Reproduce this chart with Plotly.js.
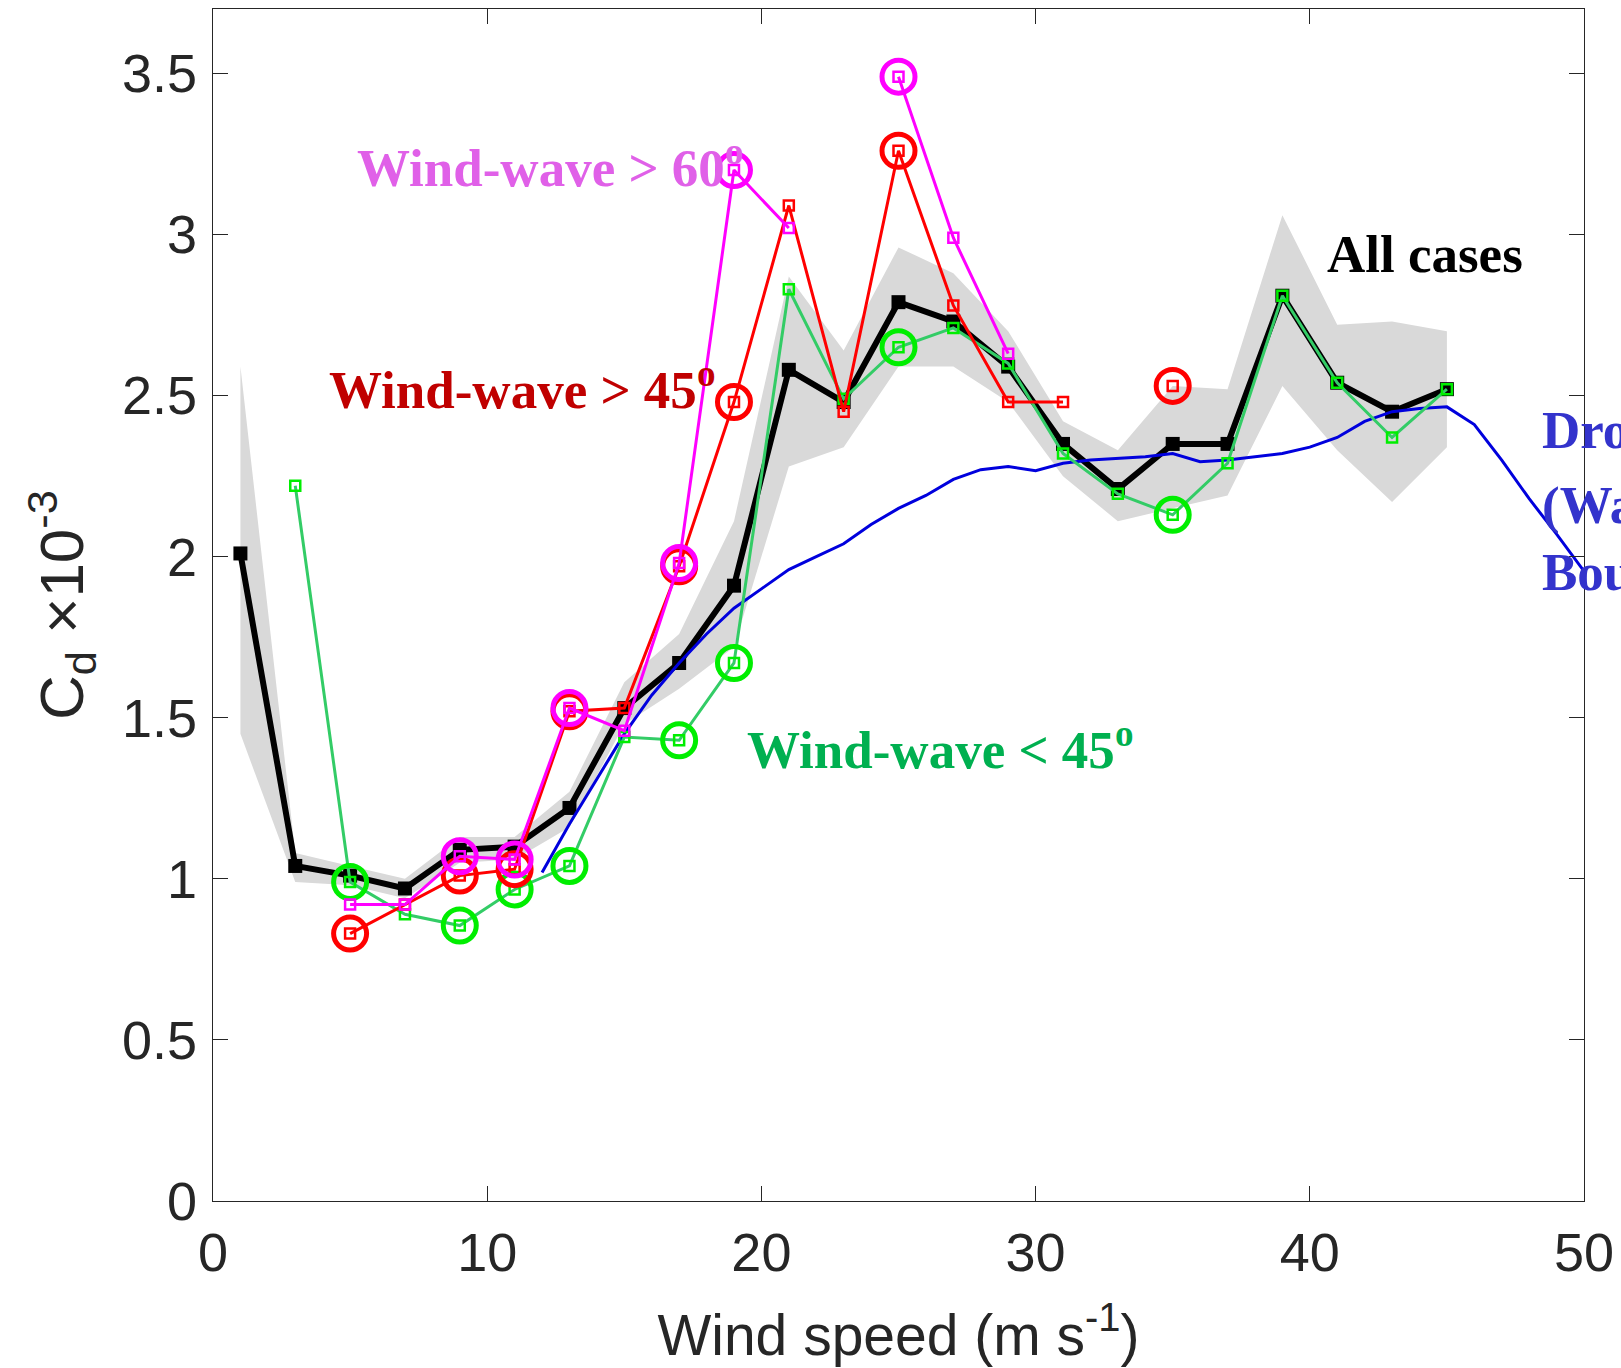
<!DOCTYPE html>
<html>
<head>
<meta charset="utf-8">
<script src="https://cdn.plot.ly/plotly-3.0.1.min.js"></script>
<style>
  html, body { margin: 0; padding: 0; background: #ffffff; }
  #chart { width: 1621px; height: 1368px; }
</style>
</head>
<body>
<div id="chart"></div>
<script>
// ---------------- DATA ----------------
const speed = [1, 3, 5, 7, 9, 11, 13, 15, 17, 19, 21, 23, 25, 27, 29, 31, 33, 35, 37, 39, 41, 43, 45];

const allCases  = [2.01, 1.04, 1.01, 0.97, 1.09, 1.10, 1.22, 1.53, 1.67, 1.91, 2.58, 2.48, 2.79, 2.73, 2.59, 2.35, 2.21, 2.35, 2.35, 2.81, 2.54, 2.45, 2.52];
const bandUpper = [2.59, 1.08, 1.04, 1.00, 1.13, 1.13, 1.27, 1.61, 1.76, 2.11, 2.87, 2.64, 2.96, 2.88, 2.70, 2.42, 2.33, 2.53, 2.52, 3.06, 2.72, 2.73, 2.70];
const bandLower = [1.45, 0.99, 0.98, 0.94, 1.05, 1.06, 1.16, 1.48, 1.59, 1.72, 2.28, 2.34, 2.59, 2.59, 2.48, 2.25, 2.11, 2.15, 2.19, 2.53, 2.33, 2.17, 2.34];

const waveGt45  = [null, null, 0.83, 0.92, 1.01, 1.03, 1.52, 1.53, 1.97, 2.48, 3.09, 2.45, 3.26, 2.78, 2.48, 2.48, null, 2.53, null, null, null, null, null];
const waveGt45Circled = [0, 0, 1, 0, 1, 1, 1, 0, 1, 1, 0, 0, 1, 0, 0, 0, 0, 1, 0, 0, 0, 0, 0];

const waveGt60  = [null, null, 0.92, 0.92, 1.07, 1.06, 1.53, 1.46, 1.98, 3.20, 3.02, null, 3.49, 2.99, 2.63, null, null, null, null, null, null, null, null];
const waveGt60Circled = [0, 0, 0, 0, 1, 1, 1, 0, 1, 1, 0, 0, 1, 0, 0, 0, 0, 0, 0, 0, 0, 0, 0];

const waveLt45  = [null, 2.22, 0.99, 0.89, 0.855, 0.967, 1.04, 1.44, 1.43, 1.67, 2.83, 2.49, 2.65, 2.71, 2.60, 2.32, 2.195, 2.13, 2.29, 2.81, 2.54, 2.37, 2.52];
const waveLt45Circled = [0, 0, 1, 0, 1, 1, 1, 0, 1, 1, 0, 0, 1, 0, 0, 0, 0, 1, 0, 0, 0, 0, 0];

const refSpeed = [12, 13, 14, 15, 16, 17, 18, 19, 20, 21, 22, 23, 24, 25, 26, 27, 28, 29, 30, 31, 32, 33, 34, 35, 36, 37, 38, 39, 40, 41, 42, 43, 44, 45, 46, 47, 48, 49, 50];
const refCd    = [1.02, 1.17, 1.31, 1.45, 1.57, 1.67, 1.76, 1.84, 1.90, 1.96, 2.00, 2.04, 2.10, 2.15, 2.19, 2.24, 2.27, 2.28, 2.267, 2.29, 2.30, 2.305, 2.31, 2.32, 2.295, 2.30, 2.31, 2.32, 2.34, 2.37, 2.42, 2.45, 2.46, 2.465, 2.41, 2.30, 2.18, 2.07, 1.955];

const xTicks = [0, 10, 20, 30, 40, 50];
const yTicks = [0, 0.5, 1, 1.5, 2, 2.5, 3, 3.5];
const yTickText = ['0', '0.5', '1', '1.5', '2', '2.5', '3', '3.5'];

// ---------------- HELPERS ----------------
function pick(xs, ys, flags) {
  const ox = [], oy = [];
  for (let i = 0; i < xs.length; i++) {
    if (flags[i] && ys[i] !== null) { ox.push(xs[i]); oy.push(ys[i]); }
  }
  return {x: ox, y: oy};
}

const RED = '#ff0000', MAG = '#ff00ff', LIME = '#00ee00', GLINE = '#33cc66', BLUE = '#0000dd';

const traces = [];

// shaded band
traces.push({
  x: speed.concat(speed.slice().reverse()),
  y: bandUpper.concat(bandLower.slice().reverse()),
  type: 'scatter', mode: 'lines', fill: 'toself',
  fillcolor: '#d9d9d9', line: {width: 0, color: 'rgba(0,0,0,0)'},
  hoverinfo: 'skip', showlegend: false
});

// all cases
traces.push({
  x: speed, y: allCases, type: 'scatter', mode: 'lines+markers',
  line: {color: '#000000', width: 6},
  marker: {symbol: 'square', size: 14, color: '#000000'},
  showlegend: false
});

// reference curve
traces.push({
  x: refSpeed, y: refCd, type: 'scatter', mode: 'lines',
  line: {color: BLUE, width: 3}, showlegend: false
});

function addSeries(ys, flags, lineColor, markColor) {
  traces.push({
    x: speed, y: ys, type: 'scatter', mode: 'lines+markers', connectgaps: false,
    line: {color: lineColor, width: 3},
    marker: {symbol: 'square-open', size: 10, color: markColor, line: {width: 2.5, color: markColor}},
    showlegend: false
  });
  const c = pick(speed, ys, flags);
  traces.push({
    x: c.x, y: c.y, type: 'scatter', mode: 'markers',
    marker: {symbol: 'circle-open', size: 33, color: markColor, line: {width: 5, color: markColor}},
    showlegend: false
  });
}

addSeries(waveLt45, waveLt45Circled, GLINE, LIME);
addSeries(waveGt45, waveGt45Circled, RED, RED);
addSeries(waveGt60, waveGt60Circled, MAG, MAG);

// ---------------- LAYOUT ----------------
const L = 213.3, R = 1584, T = 9, B = 1201;
function px(xp) { return (xp - L) / (R - L); }
function py(yp) { return (B - yp) / (B - T); }

const serif = 'Liberation Serif, Times New Roman, serif';
function note(text, xp, yp, color) {
  return {
    text: '<b>' + text + '</b>', xref: 'paper', yref: 'paper',
    x: px(xp), y: py(yp), xanchor: 'left', yanchor: 'middle',
    showarrow: false, font: {family: serif, size: 53, color: color}
  };
}

const tickFont = {family: 'Liberation Sans, Arial, Helvetica, sans-serif', size: 54, color: '#262626'};
const titleFont = {family: 'Liberation Sans, Arial, Helvetica, sans-serif', size: 57, color: '#262626'};

const layout = {
  width: 1621, height: 1368,
  margin: {l: L, r: 1621 - R, t: T, b: 1368 - B, pad: 0},
  paper_bgcolor: '#ffffff', plot_bgcolor: '#ffffff',
  showlegend: false,
  xaxis: {
    range: [0, 50], tickvals: xTicks, ticks: 'inside', ticklen: 15, tickwidth: 1,
    tickcolor: '#262626', showline: true, linecolor: '#262626', linewidth: 1.2,
    mirror: 'ticks', showgrid: false, zeroline: false, tickfont: tickFont,
    ticklabelstandoff: 4,
    title: {text: 'Wind speed (m s<sup>-1</sup>)', font: titleFont, standoff: 34}
  },
  yaxis: {
    range: [0, 3.7], tickvals: yTicks, ticktext: yTickText, ticks: 'inside', ticklen: 15, tickwidth: 1,
    tickcolor: '#262626', showline: true, linecolor: '#262626', linewidth: 1.2,
    mirror: 'ticks', showgrid: false, zeroline: false, tickfont: tickFont,
    ticklabelstandoff: 4,
    title: {text: 'C<sub>d</sub> \u00d710<sup>-3</sup>', font: {family: titleFont.family, size: 62, color: '#262626'}, standoff: 18}
  },
  annotations: [
    note('Wind-wave &gt; 60<sup>o</sup>', 355, 164, '#e060e8'),
    note('Wind-wave &gt; 45<sup>o</sup>', 327, 386, '#c00000'),
    note('Wind-wave &lt; 45<sup>o</sup>', 745, 746, '#00b050'),
    note('All cases', 1325, 254, '#000000'),
    note('Dropsonde', 1540, 430, '#3333cc'),
    note('(Wave', 1540, 506, '#3333cc'),
    note('Boundary', 1540, 572, '#3333cc')
  ]
};

Plotly.newPlot('chart', traces, layout, {displayModeBar: false, staticPlot: true});
</script>
</body>
</html>
